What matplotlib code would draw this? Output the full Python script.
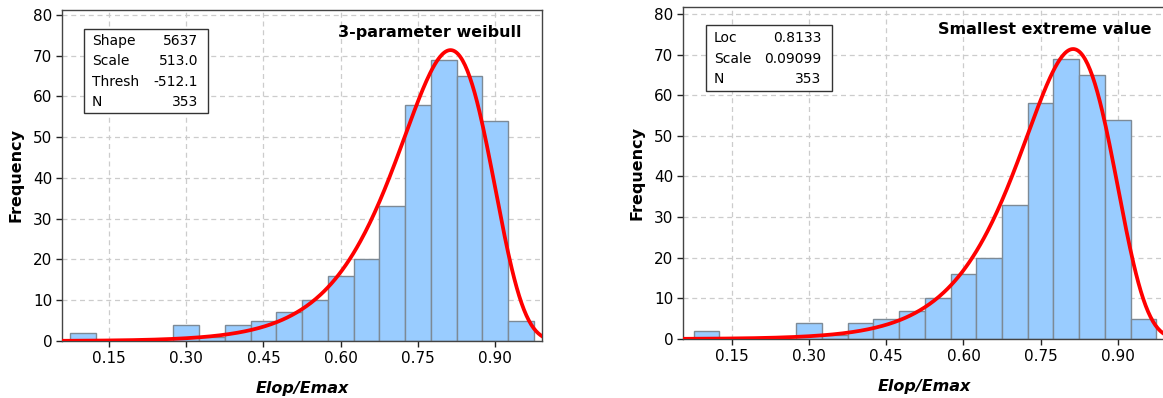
import numpy as np
import matplotlib.pyplot as plt
from matplotlib.patches import Rectangle

bin_centers = [0.10, 0.15, 0.20, 0.25, 0.30, 0.35, 0.40, 0.45, 0.50,
               0.55, 0.60, 0.65, 0.70, 0.75, 0.80, 0.85, 0.90, 0.95]
counts = [2, 0, 0, 0, 4, 1, 4, 5, 7, 10, 16, 20, 33, 58, 69, 65, 54, 5]
bin_width = 0.05
n_obs = 353

# fitted parameters
sev_loc = 0.8133
sev_scale = 0.09099
weibull_params = [("Shape", "5637"), ("Scale", "513.0"), ("Thresh", "-512.1"), ("N", "353")]
sev_params = [("Loc", "0.8133"), ("Scale", "0.09099"), ("N", "353")]

xticks = [0.15, 0.30, 0.45, 0.60, 0.75, 0.90]
yticks = [0, 10, 20, 30, 40, 50, 60, 70, 80]

plt.rcParams['font.family'] = ['DejaVu Sans']
W, H = 1163, 398
fig = plt.figure(figsize=(W / 100, H / 100), dpi=100)


def sev_pdf(x):
    # smallest extreme value density (the 3-par weibull with huge shape converges to it)
    z = (x - sev_loc) / sev_scale
    return np.exp(z - np.exp(z)) / sev_scale


def panel(px_left, px_right, px_top, px_bottom, xlim, ylim, title, title_xy, stats, box, rows_y, col_x):
    ax = fig.add_axes([px_left / W, 1 - px_bottom / H, (px_right - px_left) / W, (px_bottom - px_top) / H])
    ax.bar(bin_centers, counts, width=bin_width, color='#99CCFF', edgecolor='#7D8A96', linewidth=1.0, zorder=2)
    xs = np.linspace(xlim[0], xlim[1], 400)
    ax.plot(xs, sev_pdf(xs) * n_obs * bin_width, color='#FF0000', lw=2.7, zorder=3, clip_on=True)
    ax.set_xlim(*xlim)
    ax.set_ylim(*ylim)
    ax.set_xticks(xticks)
    ax.set_xticklabels([f"{t:.2f}" for t in xticks])
    ax.set_yticks(yticks)
    ax.tick_params(labelsize=11, length=4, width=1, color='#222222', pad=3)
    ax.grid(True, color='#CCCCCC', linestyle=(0, (4, 3)), linewidth=0.9, zorder=0)
    ax.set_axisbelow(True)
    for s in ax.spines.values():
        s.set_color('#444444')
        s.set_linewidth(1.0)
    ax.set_ylabel("Frequency", fontsize=11.5, fontweight='bold', labelpad=7)
    ax.set_xlabel("Elop/Emax", fontsize=11.5, fontweight='bold', style='italic', labelpad=11)

    tr = fig.transFigure
    fig.text(title_xy[0] / W, 1 - title_xy[1] / H, title, fontsize=11.5, fontweight='bold',
             ha='right', va='center')
    bx0, bx1, by0, by1 = box
    fig.add_artist(Rectangle((bx0 / W, 1 - by1 / H), (bx1 - bx0) / W, (by1 - by0) / H,
                             transform=tr, facecolor='white', edgecolor='#333333', lw=1.0, zorder=5))
    for (name, val), ry in zip(stats, rows_y):
        fig.text(col_x[0] / W, 1 - ry / H, name, fontsize=10, ha='left', va='center', zorder=6)
        fig.text(col_x[1] / W, 1 - ry / H, val, fontsize=10, ha='right', va='center', zorder=6)
    return ax


ax1 = panel(62, 542, 10, 341, (0.0587, 0.991), (0, 81.2), "3-parameter weibull", (522, 33),
            weibull_params, (84, 208, 29, 113), [41, 61, 82, 102], (92, 198))
ax2 = panel(683, 1165, 7, 339, (0.0545, 0.992), (0, 81.7), "Smallest extreme value", (1152, 29),
            sev_params, (706, 832, 25, 91), [38, 59, 79], (714, 821))

fig.savefig("out.png", dpi=100)
